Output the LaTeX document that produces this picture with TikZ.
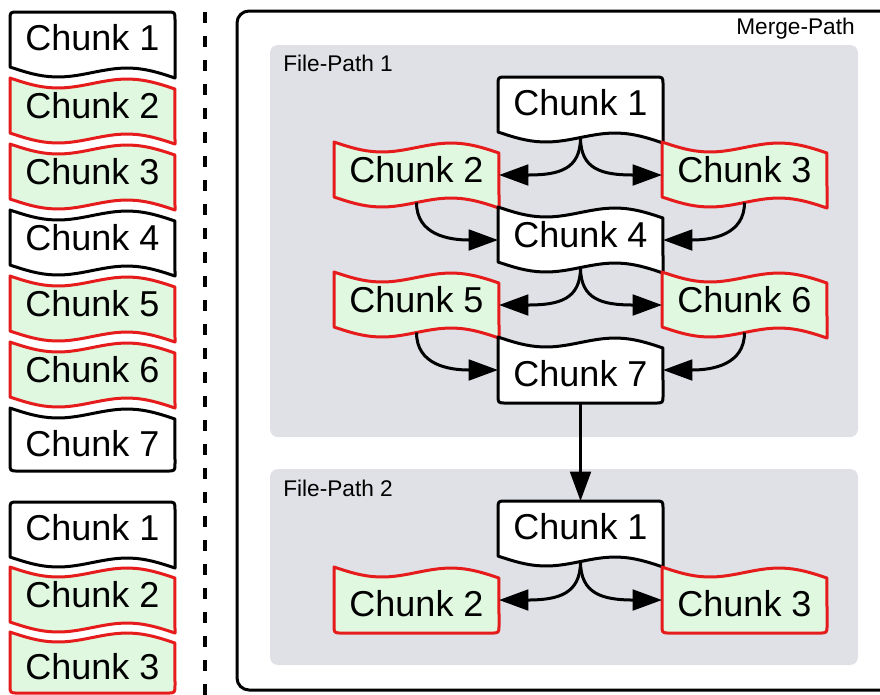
\documentclass[tikz,border=0pt]{standalone}
\usepackage{fontspec}
\setmainfont{Liberation Sans}
\usetikzlibrary{arrows.meta}

\definecolor{chunkred}{RGB}{230,27,27}
\definecolor{chunkgreen}{RGB}{224,248,224}
\definecolor{panelgray}{RGB}{223,225,230}

\tikzset{
  plain/.style={draw=black, fill=white, line width=2.25pt, line join=round},
  changed/.style={draw=chunkred, fill=chunkgreen, line width=2.25pt, line join=round},
  chunklabel/.style={inner sep=0pt, font=\fontsize{27}{31}\selectfont},
  conn/.style={line width=2.25pt, -{Triangle[length=22pt,width=15.5pt]}},
  panel/.style={fill=panelgray, rounded corners=6pt},
  caption/.style={font=\fontsize{17}{20}\selectfont, inner sep=0pt},
}

% first chunk of a file: flat top, wavy bottom (165 units wide)
% #1 name, #2 style, #3 x, #4 y, #5 label
\newcommand{\chunkfirst}[5]{%
  \path[#2] ({#3},{#4+55}) -- ({#3},{#4+8}) .. controls ({#3},{#4}) .. ({#3+8},{#4})
    -- ({#3+157},{#4}) .. controls ({#3+165},{#4}) .. ({#3+165},{#4+8})
    -- ({#3+165},{#4+66})
    -- plot[domain=0:1,samples=31,variable=\t]({#3+165*(1-\t)},{#4+55+11*(1-\t)+7*sin(360*(1-\t))})
    -- cycle;
  \node[chunklabel] (#1) at ({#3+82.5},{#4+26}) {#5};
  \coordinate (#1-t) at ({#3+82.5},{#4});
  \coordinate (#1-b) at ({#3+82.5},{#4+60.5});
}
% inner chunk: wavy top and bottom
\newcommand{\chunkmid}[5]{%
  \path[#2] plot[domain=0:1,samples=31,variable=\t]({#3+165*\t},{#4+11*\t+7*sin(360*\t)})
    -- ({#3+165},{#4+66})
    -- plot[domain=0:1,samples=31,variable=\t]({#3+165*(1-\t)},{#4+55+11*(1-\t)+7*sin(360*(1-\t))})
    -- cycle;
  \node[chunklabel] (#1) at ({#3+82.5},{#4+27.5}) {#5};
  \coordinate (#1-l) at ({#3},{#4+33});
  \coordinate (#1-r) at ({#3+165},{#4+33});
  \coordinate (#1-b) at ({#3+82.5},{#4+60.5});
}
% last chunk: wavy top, flat bottom; #5 height, #6 label
\newcommand{\chunklast}[6]{%
  \path[#2] plot[domain=0:1,samples=31,variable=\t]({#3+165*\t},{#4+11*\t+7*sin(360*\t)})
    -- ({#3+165},{#4+#5-8}) .. controls ({#3+165},{#4+#5}) .. ({#3+157},{#4+#5})
    -- ({#3+8},{#4+#5}) .. controls ({#3},{#4+#5}) .. ({#3},{#4+#5-8}) -- cycle;
  \node[chunklabel] (#1) at ({#3+82.5},{#4+(5.5+#5)/2+1}) {#6};
  \coordinate (#1-l) at ({#3},{#4+33});
  \coordinate (#1-r) at ({#3+165},{#4+33});
  \coordinate (#1-b) at ({#3+82.5},{#4+#5});
}

\begin{document}
\begin{tikzpicture}[x=0.75pt,y=-0.75pt]
  \useasboundingbox (0,0) rectangle (880,694);
  \clip (0,0) rectangle (880,694);
  \fill[white] (0,0) rectangle (880,694);

  % file one, listed chunk by chunk
  \chunkfirst{a1}{plain}{10}{12}{Chunk 1}
  \chunkmid{a2}{changed}{10}{78}{Chunk 2}
  \chunkmid{a3}{changed}{10}{144}{Chunk 3}
  \chunkmid{a4}{plain}{10}{210}{Chunk 4}
  \chunkmid{a5}{changed}{10}{276}{Chunk 5}
  \chunkmid{a6}{changed}{10}{342}{Chunk 6}
  \chunklast{a7}{plain}{10}{408}{63}{Chunk 7}

  % file two
  \chunkfirst{b1}{plain}{10}{502}{Chunk 1}
  \chunkmid{b2}{changed}{10}{567}{Chunk 2}
  \chunklast{b3}{changed}{10}{632}{61}{Chunk 3}

  % separator
  \draw[line width=2.4pt, dash pattern=on 8.25pt off 9.75pt] (205,12) -- (205,700);

  % merge path frame and the two file panels
  \draw[line width=2.25pt, rounded corners=9pt] (237,11) rectangle (1000,690);
  \node[caption, anchor=east] (mergelabel) at (855,29) {Merge-Path};
  \fill[panel] (270,45) rectangle (858,437);
  \fill[panel] (270,469) rectangle (858,665);
  \node[caption, anchor=west] (fp1label) at (283,63) {File-Path 1};
  \node[caption, anchor=west] (fp2label) at (283,488) {File-Path 2};

  % file path 1
  \chunkfirst{p1}{plain}{498}{77}{Chunk 1}
  \chunkmid{p2}{changed}{334}{142}{Chunk 2}
  \chunkmid{p3}{changed}{662}{142}{Chunk 3}
  \chunkmid{p4}{plain}{498}{207}{Chunk 4}
  \chunkmid{p5}{changed}{334}{272}{Chunk 5}
  \chunkmid{p6}{changed}{662}{272}{Chunk 6}
  \chunklast{p7}{plain}{498}{337}{66}{Chunk 7}

  % file path 2
  \chunkfirst{q1}{plain}{498}{501}{Chunk 1}
  \chunklast{q2}{changed}{334}{567}{66}{Chunk 2}
  \chunklast{q3}{changed}{662}{567}{66}{Chunk 3}

  % connectors
  \draw[conn] (p1-b) .. controls +(0,32) and +(60,0) .. (p2-r);
  \draw[conn] (p1-b) .. controls +(0,32) and +(-60,0) .. (p3-l);
  \draw[conn] (p2-b) .. controls +(0,32) and +(-50,0) .. (p4-l);
  \draw[conn] (p3-b) .. controls +(0,32) and +(50,0) .. (p4-r);
  \draw[conn] (p4-b) .. controls +(0,32) and +(60,0) .. (p5-r);
  \draw[conn] (p4-b) .. controls +(0,32) and +(-60,0) .. (p6-l);
  \draw[conn] (p5-b) .. controls +(0,32) and +(-50,0) .. (p7-l);
  \draw[conn] (p6-b) .. controls +(0,32) and +(50,0) .. (p7-r);
  \draw[conn] (p7-b) -- (q1-t);
  \draw[conn] (q1-b) .. controls +(0,32) and +(60,0) .. (q2-r);
  \draw[conn] (q1-b) .. controls +(0,32) and +(-60,0) .. (q3-l);
\end{tikzpicture}
\end{document}
